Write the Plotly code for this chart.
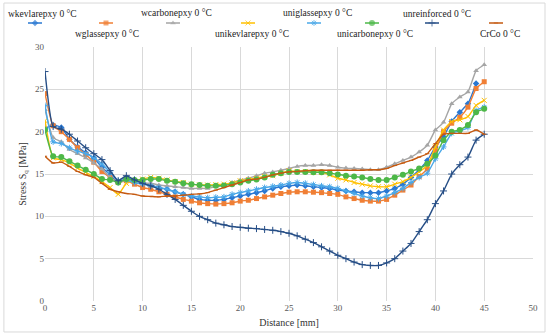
import plotly.graph_objects as go

distance = [round(i * 45 / 54, 3) for i in range(55)]

wkevlar = [20.4, 20.8, 20.5, 19.1, 18.2, 17.5, 16.9, 15.8, 14.9, 14.0, 14.5, 14.3, 14.0, 13.7, 13.4, 13.2, 12.9, 12.6, 12.3, 12.0,
           11.9, 11.9, 12.0, 12.2, 12.4, 12.6, 12.8, 13.0, 13.3, 13.5, 13.6, 13.7, 13.6, 13.5, 13.4, 13.3, 13.1, 13.0, 12.9, 12.8,
           12.8, 12.8, 13.0, 13.3, 13.8, 14.6, 15.5, 16.6, 18.2, 19.4, 21.2, 22.3, 23.3, 25.7, None]
wglass = [24.5, 20.7, 20.0, 19.1, 18.1, 17.3, 16.4, 15.3, 14.6, 14.0, 14.2, 13.8, 13.4, 13.2, 12.9, 12.6, 12.3, 12.0, 11.8, 11.6,
          11.5, 11.45, 11.5, 11.6, 11.8, 11.9, 12.1, 12.3, 12.5, 12.7, 12.85, 12.9, 12.9, 12.85, 12.8, 12.7, 12.6, 12.3, 12.1, 11.9,
          11.8, 11.8, 12.0, 12.5, 13.1, 13.7, 14.7, 15.6, 17.8, 20.0, 21.0, 21.7, 22.9, 25.1, 25.9]
wcarbon = [22.6, 19.3, 18.8, 17.9, 17.4, 16.9, 16.3, 15.6, 14.6, 14.0, 14.3, 14.1, 13.9, 13.9, 13.7, 13.6, 13.5, 13.4, 13.3, 13.3,
           13.3, 13.5, 13.7, 14.0, 14.3, 14.5, 14.8, 15.1, 15.25, 15.45, 15.65, 15.9, 16.0, 16.0, 16.1, 16.0, 15.8, 15.7, 15.65, 15.6,
           15.5, 15.5, 15.8, 16.2, 16.6, 17.0, 17.6, 18.4, 20.2, 21.1, 23.3, 24.1, 24.7, 27.2, 27.9]
unikevlar = [21.3, 16.9, 16.7, 16.3, 15.7, 15.2, 14.7, 14.1, 13.4, 12.6, 13.9, 14.2, 14.4, 14.6, 14.5, 14.3, 14.1, 14.0, 13.8, 13.7,
             13.7, 13.75, 13.8, 13.95, 14.2, 14.35, 14.5, 14.7, 14.8, 15.1, 15.4, 15.3, 15.3, 15.2, 15.2, 14.9, 14.5, 14.3, 14.0, 13.8,
             13.6, 13.5, 13.5, 13.8, 14.1, 14.6, 15.25, 16.0, 18.2, 20.2, 21.2, 21.4, 21.8, 23.1, 23.7]
uniglass = [23.1, 18.8, 18.6, 18.1, 17.7, 17.4, 16.9, 16.2, 15.2, 14.2, 14.3, 14.0, 13.8, 13.6, 13.4, 13.2, 12.9, 12.6, 12.4, 12.3,
            12.2, 12.25, 12.3, 12.6, 12.8, 13.0, 13.2, 13.4, 13.55, 13.7, 13.9, 14.0, 13.9, 13.75, 13.6, 13.5, 13.3, 13.0, 12.7, 12.4,
            12.2, 12.1, 12.4, 12.8, 13.3, 14.0, 14.6, 15.1, 16.8, 18.2, 19.8, 20.1, 20.5, 22.5, 22.9]
unicarbon = [20.2, 17.1, 17.0, 16.5, 16.0, 15.5, 15.0, 14.4, 14.3, 14.0, 14.4, 14.3, 14.3, 14.4, 14.4, 14.2, 14.1, 13.9, 13.8, 13.7,
             13.6, 13.6, 13.65, 13.8, 14.0, 14.2, 14.35, 14.6, 14.9, 15.1, 15.25, 15.25, 15.25, 15.2, 15.2, 15.1, 14.95, 14.8, 14.7, 14.6,
             14.4, 14.3, 14.3, 14.6, 14.9, 15.3, 15.65, 16.2, 17.2, 19.0, 20.0, 20.2, 20.8, 22.3, 22.7]
unreinforced = [27.1, 20.6, 20.3, 19.7, 18.9, 18.1, 17.4, 16.7, 15.4, 14.2, 14.8, 14.3, 13.9, 13.6, 13.2, 12.6, 12.0, 11.3, 10.6, 10.0,
                9.6, 9.2, 9.0, 8.8, 8.7, 8.6, 8.55, 8.45, 8.35, 8.2, 8.0, 7.7, 7.3, 6.9, 6.4, 5.9, 5.4, 5.0, 4.6, 4.3,
                4.2, 4.2, 4.5, 5.0, 5.9, 6.8, 8.2, 9.6, 11.5, 13.0, 15.0, 16.1, 17.0, 19.0, 19.7]
crco = [17.1, 16.3, 16.4, 15.9, 15.3, 14.9, 14.6, 13.9, 13.2, 12.9, 12.7, 12.6, 12.4, 12.35, 12.3, 12.4, 12.4, 12.5, 12.6, 12.65,
        12.8, 13.1, 13.4, 13.7, 14.0, 14.3, 14.4, 14.6, 14.9, 15.1, 15.25, 15.3, 15.4, 15.45, 15.45, 15.45, 15.45, 15.45, 15.45, 15.45,
        15.5, 15.5, 15.65, 16.0, 16.3, 16.6, 17.0, 17.4, 18.6, 19.7, 19.8, 19.8, 19.8, 20.2, 19.7]

series_names = ["wkevlarepxy 0 °C", "wglassepxy 0 °C", "wcarbonepxy 0 °C", "unikevlarepxy 0 °C",
                "uniglassepxy 0 °C", "unicarbonepxy 0 °C", "unreinforced 0 °C", "CrCo 0 °C"]
series_values = [wkevlar, wglass, wcarbon, unikevlar, uniglass, unicarbon, unreinforced, crco]
colors = ["#2A78D2", "#F07F35", "#A5A5A5", "#FFC000", "#4AA8E8", "#4DB848", "#264E86", "#C55A11"]
symbols = ["diamond", "square", "triangle-up", "x-thin", "asterisk", "circle", "cross-thin", "line-ew"]
sizes = [5, 5, 5, 5, 5, 6, 5, 3]

# legend placement (pixel positions in legend overlay axis)
leg_text_x = [42, 107, 176, 252, 317, 375, 437, 500]
leg_text_y = [14, 34, 13, 34, 13, 34, 14, 34]
leg_sym_x = [35, 106, 173, 248, 314, 372, 432, 496]

SERIF = "Liberation Serif, Times New Roman, serif"
THIN = ("x-thin", "asterisk", "cross-thin", "line-ew")

fig = go.Figure()
for name, vals, col, sym, sz in zip(series_names, series_values, colors, symbols, sizes):
    thin = sym in THIN
    fig.add_trace(go.Scatter(
        x=distance, y=vals, name=name, mode="lines+markers",
        line=dict(color=col, width=1.4, shape="spline", smoothing=0.5),
        marker=dict(symbol=sym, size=sz, color=col,
                    line=dict(color=col, width=1 if thin else 0)),
        showlegend=False, connectgaps=False))

# custom legend drawn on an overlay axis above the plot
for i, (name, col, sym, sz) in enumerate(zip(series_names, colors, symbols, sizes)):
    thin = sym in THIN
    cx = leg_sym_x[i]
    fig.add_trace(go.Scatter(
        x=[cx - 7, cx, cx + 7], y=[-23, -23, -23], xaxis="x2", yaxis="y2",
        mode="lines+markers", line=dict(color=col, width=1.6),
        marker=dict(symbol=sym, size=[0, sz, 0], color=col,
                    line=dict(color=col, width=1 if thin else 0)),
        showlegend=False, hoverinfo="skip", cliponaxis=False))
    fig.add_annotation(x=leg_text_x[i], y=-leg_text_y[i], xref="x2", yref="y2",
                       text=name, showarrow=False, xanchor="center", yanchor="middle",
                       font=dict(family=SERIF, size=9.5, color="#222222"))

fig.update_layout(
    width=550, height=336,
    margin=dict(l=5, r=5, t=4, b=5),
    paper_bgcolor="white", plot_bgcolor="white",
    xaxis=dict(range=[0, 50], dtick=5, showgrid=True, gridcolor="#d9d9d9", gridwidth=1,
               zeroline=False, showline=False, ticks="", anchor="y",
               domain=[0.0741, 0.9778], automargin=False,
               tickfont=dict(family=SERIF, size=9, color="#595959"),
               title=dict(text="Distance [mm]", font=dict(family=SERIF, size=10, color="#333333"), standoff=6)),
    yaxis=dict(range=[0, 30], dtick=5, showgrid=True, gridcolor="#d9d9d9", gridwidth=1,
               zeroline=False, showline=False, ticks="", domain=[0.0917, 0.8685], anchor="x",
               automargin=False,
               tickfont=dict(family=SERIF, size=9, color="#595959"),
               title=dict(text="Stress S<sub>q</sub> [MPa]", font=dict(family=SERIF, size=10, color="#333333"), standoff=6)),
    xaxis2=dict(range=[5, 545], domain=[0, 1], anchor="y2", visible=False, fixedrange=True),
    yaxis2=dict(range=[-45.9, -4], domain=[0.872, 1], anchor="x2", visible=False, fixedrange=True),
    shapes=[dict(type="rect", xref="paper", yref="paper",
                 x0=-0.002, x1=1.0, y0=-0.003, y1=1.003,
                 line=dict(color="#d9d9d9", width=1), layer="below")],
)

fig.write_html("out.html", config={"displayModeBar": False},
               post_script="document.body.style.margin='0px';document.body.style.padding='0px';")
